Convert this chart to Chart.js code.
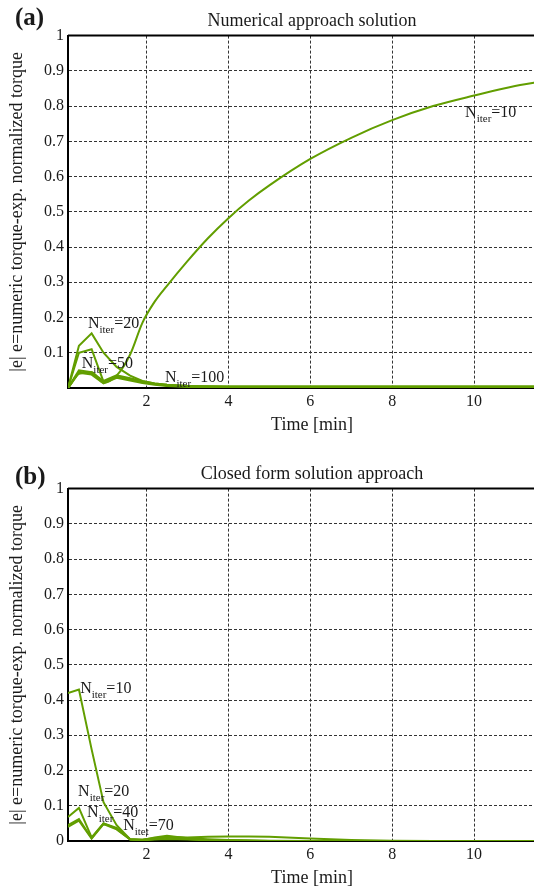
<!DOCTYPE html>
<html>
<head>
<meta charset="utf-8">
<title>Torque error vs time</title>
<script src="https://cdn.jsdelivr.net/npm/chart.js@4.4.0/dist/chart.umd.min.js"></script>
<style>
    html, body { margin: 0; padding: 0; background: #fff; overflow: hidden; }
    #wrap { position: relative; width: 534px; height: 888px; overflow: hidden; }
    .panel { position: absolute; left: 0; }
    #panelA { top: 0; }
    #panelB { top: 453px; }
</style>
</head>
<body>
<div id="wrap">
    <div class="panel" id="panelA"><canvas id="chartA" width="556" height="444"></canvas></div>
    <div class="panel" id="panelB"><canvas id="chartB" width="556" height="444"></canvas></div>
</div>
<script>
// ========================= DADOS =========================
// instantes de amostragem [min]
const timeMin = [0.083, 0.35, 0.66, 0.95, 1.27, 1.6, 1.9, 2.2, 2.5, 3, 3.5, 4, 4.5, 5, 6, 7, 8, 9, 10, 11, 12];

// (a) abordagem numérica
const numN10  = [0, 0.04, 0.045, 0.015, 0.035, 0.095, 0.185, 0.245, 0.29, 0.36, 0.425, 0.482, 0.532, 0.575, 0.65, 0.71, 0.76, 0.80, 0.83, 0.857, 0.876];
const numN20  = [0, 0.12, 0.155, 0.10, 0.06, 0.035, 0.02, 0.013, 0.009, 0.006, 0.005, 0.005, 0.005, 0.005, 0.005, 0.005, 0.005, 0.005, 0.005, 0.005, 0.005];
const numN50  = [0, 0.10, 0.11, 0.018, 0.032, 0.024, 0.016, 0.011, 0.008, 0.005, 0.004, 0.003, 0.003, 0.003, 0.003, 0.003, 0.003, 0.003, 0.003, 0.003, 0.003];
const numN100 = [0, 0.05, 0.045, 0.02, 0.036, 0.028, 0.019, 0.013, 0.009, 0.006, 0.004, 0.003, 0.003, 0.003, 0.003, 0.003, 0.003, 0.003, 0.003, 0.003, 0.003];
const numN200 = [0, 0.046, 0.041, 0.016, 0.032, 0.024, 0.016, 0.011, 0.007, 0.004, 0.003, 0.002, 0.002, 0.002, 0.002, 0.002, 0.002, 0.002, 0.002, 0.002, 0.002];
const numN500 = [0, 0.043, 0.038, 0.013, 0.029, 0.021, 0.014, 0.009, 0.006, 0.003, 0.002, 0.001, 0.001, 0.001, 0.001, 0.001, 0.001, 0.001, 0.001, 0.001, 0.001];

// (b) solução em forma fechada
const cfN10 = [0.42, 0.43, 0.26, 0.11, 0.045, 0.005, 0.004, 0.008, 0.012, 0.010, 0.012, 0.013, 0.013, 0.012, 0.007, 0.003, 0.001, 0, 0, 0, 0];
const cfN20 = [0.068, 0.094, 0.01, 0.05, 0.037, 0.005, 0.003, 0.010, 0.015, 0.008, 0.005, 0.003, 0.002, 0.001, 0, 0, 0, 0, 0, 0, 0];
const cfN40 = [0.045, 0.062, 0.008, 0.05, 0.035, 0.005, 0.003, 0.006, 0.010, 0.006, 0.003, 0.002, 0.001, 0, 0, 0, 0, 0, 0, 0, 0];
const cfN70 = [0.040, 0.058, 0.007, 0.048, 0.033, 0.004, 0.002, 0.004, 0.006, 0.004, 0.002, 0.001, 0, 0, 0, 0, 0, 0, 0, 0, 0];

// eixos
const xTicks = [2, 4, 6, 8, 10];
const yTicks = [0, 0.1, 0.2, 0.3, 0.4, 0.5, 0.6, 0.7, 0.8, 0.9, 1];
const yLabelsA = ['', '0.1', '0.2', '0.3', '0.4', '0.5', '0.6', '0.7', '0.8', '0.9', '1'];
const yLabelsB = ['0', '0.1', '0.2', '0.3', '0.4', '0.5', '0.6', '0.7', '0.8', '0.9', '1'];

// rótulos das curvas (posição em coordenadas de dados)
const notesA = [
    { x: 9.78, y: 0.77,  sub: 'iter', text: '=10' },
    { x: 0.57, y: 0.17,  sub: 'iter', text: '=20' },
    { x: 0.42, y: 0.057, sub: 'iter', text: '=50' },
    { x: 2.45, y: 0.017, sub: 'iter', text: '=100' }
];
const notesB = [
    { x: 0.38, y: 0.42,  sub: 'iter', text: '=10' },
    { x: 0.33, y: 0.128, sub: 'iter', text: '=20' },
    { x: 0.55, y: 0.068, sub: 'iter', text: '=40' },
    { x: 1.43, y: 0.031, sub: 'itet', text: '=70' }
];

// ========================= ESTILO =========================
const SERIF = '"Liberation Serif", "DejaVu Serif", serif';
const INK = '#1a1a1a';
const LINE_GREEN = 'rgb(98, 158, 0)';

// ========================= PLUGIN: moldura, letra do painel e rótulos =========================
const panelDecor = {
    id: 'panelDecor',
    beforeDatasetsDraw(chart) {
        const { ctx, chartArea } = chart;
        ctx.save();
        ctx.strokeStyle = '#000';
        ctx.lineWidth = 2;
        ctx.beginPath();
        ctx.moveTo(chartArea.left, chartArea.top);
        ctx.lineTo(chartArea.right, chartArea.top);
        ctx.stroke();
        ctx.restore();
    },
    afterDraw(chart, args, opts) {
        const { ctx } = chart;
        const xs = chart.scales.x;
        const ys = chart.scales.y;
        ctx.save();
        ctx.fillStyle = INK;
        ctx.textBaseline = 'middle';
        ctx.textAlign = 'left';
        ctx.font = 'bold 25px ' + SERIF;
        ctx.fillText(opts.tag, 15, opts.tagY);

        ctx.textBaseline = 'alphabetic';
        (opts.notes || []).forEach(n => {
            let px = xs.getPixelForValue(n.x);
            const py = ys.getPixelForValue(n.y);
            ctx.font = '16px ' + SERIF;
            ctx.fillText('N', px, py);
            px += ctx.measureText('N').width;
            ctx.font = '11px ' + SERIF;
            ctx.fillText(n.sub, px, py + 5);
            px += ctx.measureText(n.sub).width;
            ctx.font = '16px ' + SERIF;
            ctx.fillText(n.text, px, py);
        });
        ctx.restore();
    }
};

// ========================= GRÁFICOS =========================
function montarPainel(canvasId, cfg) {
    const ctx = document.getElementById(canvasId);
    return new Chart(ctx, {
        type: 'line',
        data: {
            datasets: cfg.series.map((values, k) => ({
                data: timeMin.map((t, i) => ({ x: t, y: values[i] })),
                borderColor: LINE_GREEN,
                borderWidth: 2,
                pointRadius: 0,
                // a curva que cresce devagar fica suavizada
                cubicInterpolationMode: k === cfg.smooth ? 'monotone' : 'default',
                tension: 0,
                fill: false
            }))
        },
        options: {
            responsive: false,
            animation: false,
            layout: { padding: 0 },
            plugins: {
                legend: { display: false },
                tooltip: { enabled: false },
                title: {
                    display: true,
                    fullSize: false,
                    text: cfg.title,
                    color: INK,
                    font: { family: SERIF, size: 18, weight: 'normal' },
                    padding: { top: 10, bottom: 4 }
                },
                panelDecor: { tag: cfg.tag, tagY: cfg.tagY, notes: cfg.notes }
            },
            scales: {
                x: {
                    type: 'linear',
                    min: 0.083,
                    max: 12,
                    afterBuildTicks: s => { s.ticks = xTicks.map(v => ({ value: v })); },
                    afterFit: s => { s.height = 56; },
                    ticks: { color: INK, font: { family: SERIF, size: 16 }, padding: 4, maxRotation: 0 },
                    grid: { color: '#333', lineWidth: 1, drawTicks: false },
                    border: { color: '#000', width: 2, dash: [3, 2] },
                    title: {
                        display: true,
                        text: 'Time [min]',
                        color: INK,
                        font: { family: SERIF, size: 18 },
                        padding: { top: 0, bottom: 8 }
                    }
                },
                y: {
                    type: 'linear',
                    min: 0,
                    max: 1,
                    afterBuildTicks: s => { s.ticks = yTicks.map(v => ({ value: v })); },
                    afterFit: s => { s.width = 68; },
                    ticks: {
                        color: INK,
                        font: { family: SERIF, size: 16 },
                        padding: 4,
                        callback: (value, index) => cfg.yLabels[index]
                    },
                    grid: { color: '#333', lineWidth: 1, drawTicks: false },
                    border: { color: '#000', width: 2, dash: [3, 2] },
                    title: {
                        display: true,
                        text: '|e| e=numeric torque-exp. normalized torque',
                        color: INK,
                        font: { family: SERIF, size: 18 },
                        padding: { top: 6, bottom: 0 }
                    }
                }
            }
        },
        plugins: [panelDecor]
    });
}

document.addEventListener('DOMContentLoaded', function() {
    montarPainel('chartA', {
        title: 'Numerical approach solution',
        tag: '(a)', tagY: 19,
        series: [numN500, numN200, numN100, numN50, numN20, numN10],
        smooth: 5,
        yLabels: yLabelsA,
        notes: notesA
    });
    montarPainel('chartB', {
        title: 'Closed form solution approach',
        tag: '(b)', tagY: 25,
        series: [cfN70, cfN40, cfN20, cfN10],
        smooth: -1,
        yLabels: yLabelsB,
        notes: notesB
    });
});
</script>
</body>
</html>
